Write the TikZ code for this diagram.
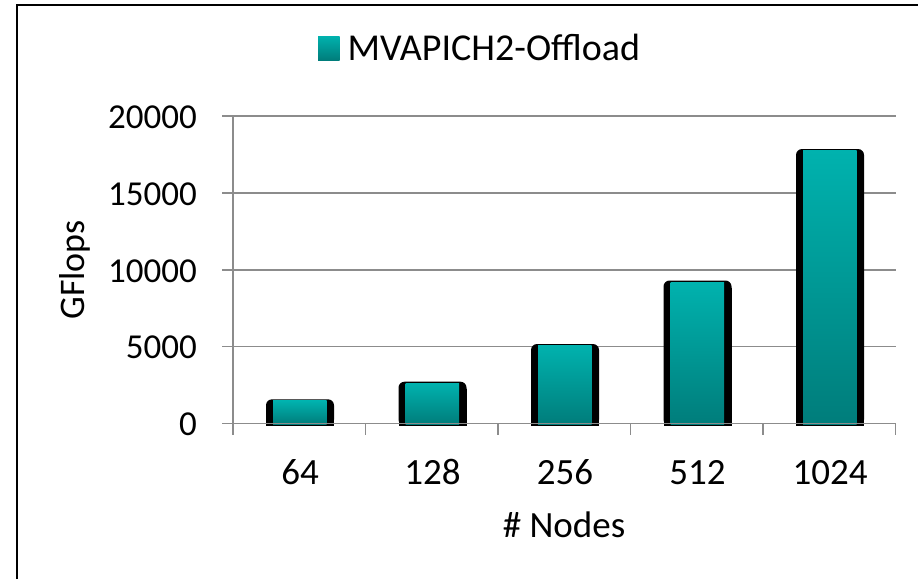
\documentclass[tikz,border=0pt]{standalone}
\usepackage{fontspec}
\setmainfont{Carlito}
\definecolor{tealtop}{RGB}{0,178,174}
\definecolor{tealbot}{RGB}{0,125,123}
\definecolor{gridgray}{RGB}{140,140,140}
\begin{document}
\begin{tikzpicture}[x=1pt,y=-1pt,
  lbl/.style={font=\fontsize{35}{40}\selectfont, inner sep=0pt},
  biglbl/.style={font=\fontsize{37}{42}\selectfont, inner sep=0pt},
  gridline/.style={draw=gridgray, line width=1.6pt},
  axisline/.style={draw=gridgray, line width=1.6pt},
  frameline/.style={draw=black, line width=2.5pt},
  tealfill/.style={top color=tealtop, bottom color=tealbot},
]
\useasboundingbox (0,0) rectangle (918,579);
% frame (only left and top visible)
\draw[frameline] (17,579) -- (17,5) -- (918,5);
% legend
\shade[tealfill] (318,36) rectangle (339.5,60);
\node[biglbl, font=\fontsize{38}{42}\selectfont, anchor=base west] (legend) at (347.5,60) {MVAPICH2-Offload};
% gridlines
\foreach \k in {1,2,3,4} {
  \draw[gridline] (222,423.5-\k*76.9) -- (895.5,423.5-\k*76.9);
}
% y tick labels
\foreach \k/\v in {0/0,1/5000,2/10000,3/15000,4/20000} {
  \node[lbl, anchor=base east] (y\k) at (197,435.8-\k*76.9) {\v};
}
% bars
\foreach \c/\t [count=\i] in {300/399.3,432.5/381.7,565/344,697.5/280.5,830/149} {
  \fill[black, rounded corners=6pt] (\c-34,\t) rectangle (\c+34,425.5);
  \fill[black] (\c-34,\t+7) rectangle (\c+34,425.5);
  \shade[tealfill] (\c-27,\t+1.6) rectangle (\c+26.5,424);
}
% axes
\draw[axisline] (222,423.5) -- (895.5,423.5);
\draw[axisline] (233,116) -- (233,435);
\foreach \x in {365.5,498,630.5,763,895.5} {
  \draw[axisline] (\x,423.5) -- (\x,435);
}
% x tick labels
\foreach \c/\v [count=\i] in {300/64,432.5/128,565/256,697.5/512,830/1024} {
  \node[biglbl, anchor=base] (x\i) at (\c,484) {\v};
}
% axis titles
\node[biglbl, anchor=base] (xtitle) at (564,537) {\# Nodes};
\node[biglbl, font=\fontsize{36}{40}\selectfont, anchor=base, rotate=90] (ytitle) at (84.5,270) {GFlops};
\end{tikzpicture}
\end{document}
